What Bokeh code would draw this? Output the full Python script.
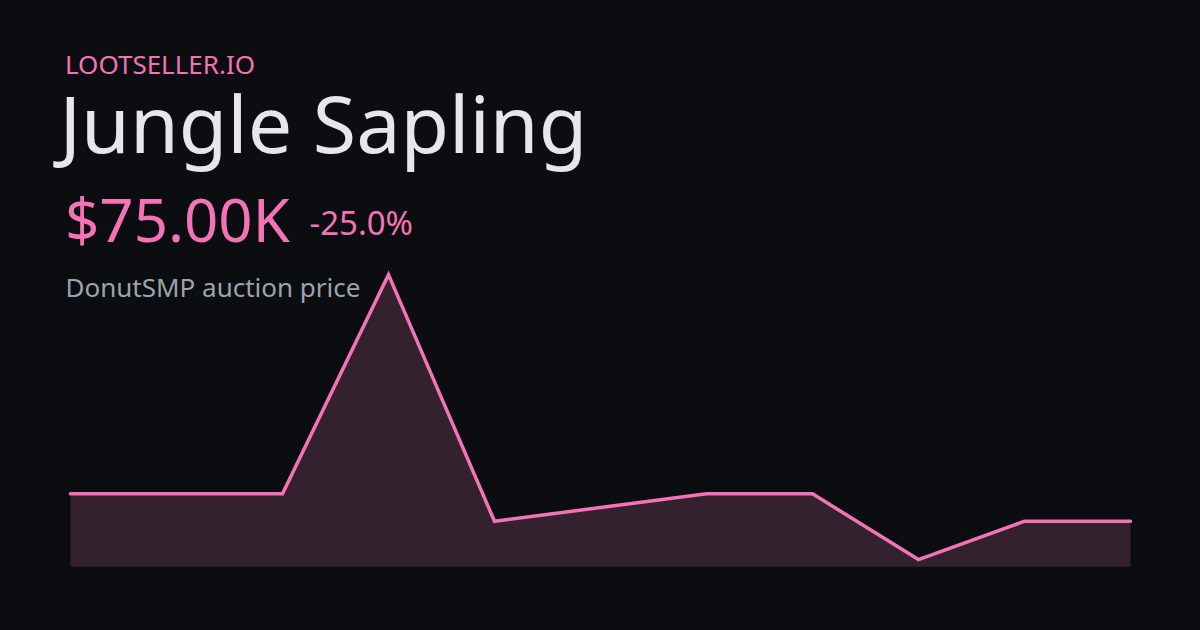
from bokeh.plotting import figure
from bokeh.models import Range1d, Label, ColumnDataSource
from bokeh.embed import file_html
from bokeh.resources import INLINE

# ---- data ----
days = [0, 1, 2, 3, 4, 6, 7, 8, 9, 10]
prices_k = [100, 100, 100, 300, 75, 100, 100, 40, 75, 75]

brand = "LOOTSELLER.IO"
item_name = "Jungle Sapling"
subtitle = "DonutSMP auction price"

last = prices_k[-1]
first = prices_k[0]
change_pct = (last - first) / first * 100.0
price_text = f"${last:.2f}K"
change_text = f"{change_pct:.1f}%"

lo, hi = min(prices_k), max(prices_k)
floor = lo - 0.025 * (hi - lo)

BG = "#0c0d10"
PINK = "#f472b6"
FILL = "#33212d"

W, H = 1200, 630
p = figure(width=W, height=H, output_backend="svg", toolbar_location=None,
           x_range=Range1d(-0.660, 10.660), y_range=Range1d(-24.7, 550.1),
           min_border=0, background_fill_color=BG, border_fill_color=BG,
           outline_line_color=None)
p.axis.visible = False
p.grid.visible = False

src = ColumnDataSource(dict(x=days, y=prices_k, base=[floor] * len(days)))
p.varea(x="x", y1="base", y2="y", source=src, fill_color=FILL, fill_alpha=1.0)
p.line(x="x", y="y", source=src, line_color=PINK, line_width=3.5,
       line_cap="round", line_join="miter")

def lab(text, x_page, baseline_page, size, color, font="Noto Sans"):
    anchor = baseline_page - 0.385 * size
    p.add_layout(Label(x=x_page, y=H - anchor, x_units="screen",
                       y_units="screen", text=text, text_font=font,
                       text_font_size=f"{size}px", text_color=color,
                       text_baseline="alphabetic", text_align="left"))

lab(brand, 64.5, 74, 26, PINK)
lab(item_name, 59, 152, 79, "#e5e7eb")
lab(price_text, 64.5, 242, 60, PINK)
lab(change_text, 309, 235, 33, PINK)
lab(subtitle, 65, 297, 26, "#9ca3af")

html = file_html(p, INLINE)
html = html.replace("</head>", f"<style>html,body{{background:{BG};}}</style></head>", 1)
open("out.html", "w").write(html)
